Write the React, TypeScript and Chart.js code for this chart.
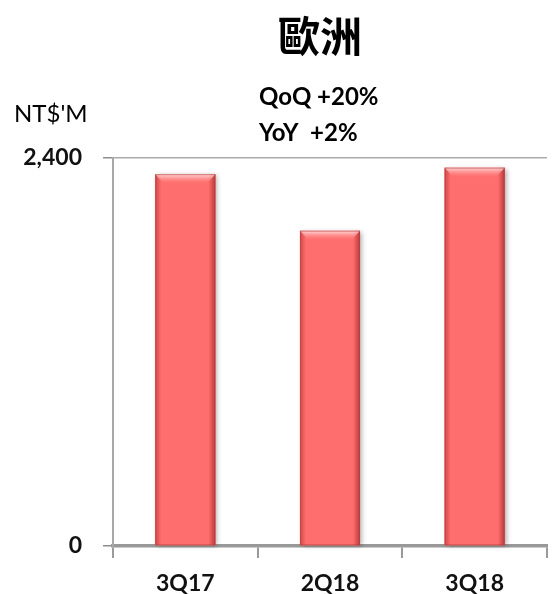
import { useEffect, useRef } from "react";
import { Chart, registerables } from "chart.js";

Chart.register(...registerables);

const categories = ["3Q17", "2Q18", "3Q18"];
const revenue = [2300, 1950, 2340];
const yMin = 0;
const yMax = 2400;
const titleText = "歐洲";
const subtitleLines = ["QoQ +20%", "YoY  +2%"];
const unitLabel = "NT$'M";

export default function App() {
  const ref = useRef<HTMLCanvasElement>(null);

  useEffect(() => {
    document.body.style.margin = "0";
    const canvas = ref.current;
    if (!canvas) return;

    const textPlugin = {
      id: "texts",
      afterDraw(chart: any) {
        const { ctx } = chart;
        ctx.save();
        ctx.fillStyle = "#000";
        ctx.textBaseline = "middle";
        ctx.textAlign = "center";
        ctx.font = "bold 42px 'Noto Sans CJK TC'";
        ctx.fillText(titleText, 320, 36);
        ctx.textAlign = "left";
        ctx.font = "bold 24px Lato";
        ctx.fillText(subtitleLines[0], 259, 97);
        ctx.fillText(subtitleLines[1], 259, 133);
        ctx.font = "24px Lato";
        ctx.fillText(unitLabel, 14, 114);
        ctx.restore();
      },
    };

    const bevelPlugin = {
      id: "bevel",
      beforeDatasetsDraw(chart: any) {
        const { ctx } = chart;
        const meta = chart.getDatasetMeta(0);
        ctx.save();
        meta.data.forEach((bar: any) => {
          const { x, y, base, width } = bar.getProps(["x", "y", "base", "width"], true);
          ctx.shadowColor = "rgba(0,0,0,0.35)";
          ctx.shadowBlur = 5;
          ctx.shadowOffsetX = 2;
          ctx.shadowOffsetY = 1;
          ctx.fillStyle = "#ff6e6e";
          ctx.fillRect(x - width / 2, y, width, base - y);
        });
        ctx.restore();
      },
      afterDatasetsDraw(chart: any) {
        const { ctx } = chart;
        const meta = chart.getDatasetMeta(0);
        ctx.save();
        meta.data.forEach((bar: any) => {
          const { x, y, base, width } = bar.getProps(["x", "y", "base", "width"], true);
          const l = x - width / 2;
          const r = x + width / 2;
          const h = base - y;
          // left edge
          let g = ctx.createLinearGradient(l, 0, l + 6, 0);
          g.addColorStop(0, "rgba(170,40,40,0.55)");
          g.addColorStop(1, "rgba(170,40,40,0)");
          ctx.fillStyle = g;
          ctx.fillRect(l, y, 6, h);
          // right edge
          g = ctx.createLinearGradient(r, 0, r - 7, 0);
          g.addColorStop(0, "rgba(150,30,30,0.65)");
          g.addColorStop(1, "rgba(150,30,30,0)");
          ctx.fillStyle = g;
          ctx.fillRect(r - 7, y, 7, h);
          // top bevel highlight
          g = ctx.createLinearGradient(0, y, 0, y + 9);
          g.addColorStop(0, "rgba(255,255,255,0.75)");
          g.addColorStop(0.35, "rgba(255,200,200,0.6)");
          g.addColorStop(1, "rgba(255,150,150,0)");
          ctx.fillStyle = g;
          ctx.beginPath();
          ctx.moveTo(l, y);
          ctx.lineTo(r, y);
          ctx.lineTo(r - 8, y + 9);
          ctx.lineTo(l + 8, y + 9);
          ctx.closePath();
          ctx.fill();
          ctx.strokeStyle = "rgba(180,60,60,0.55)";
          ctx.lineWidth = 1;
          ctx.strokeRect(l + 0.5, y + 0.5, width - 1, h - 1);
        });
        ctx.restore();
      },
    };

    const chart = new Chart(canvas, {
      type: "bar",
      data: {
        labels: categories,
        datasets: [
          {
            data: revenue,
            backgroundColor: "#ff6e6e",
            borderWidth: 0,
            barPercentage: 0.415,
            categoryPercentage: 1,
          },
        ],
      },
      options: {
        animation: false,
        responsive: true,
        maintainAspectRatio: false,
        layout: { padding: { top: 158, right: 9, left: 0, bottom: 0 } },
        plugins: {
          legend: { display: false },
          title: { display: false },
          tooltip: { enabled: false },
        },
        scales: {
          x: {
            afterFit: (scale: any) => {
              scale.height = 48;
            },
            grid: {
              display: true,
              drawOnChartArea: false,
              drawTicks: true,
              tickLength: 12,
              tickColor: "#9a9a9a",
              lineWidth: 2,
              color: "#9a9a9a",
            },
            border: { display: true, color: "#999999", width: 3.5 },
            ticks: {
              color: "#111",
              font: { family: "Lato", size: 23, weight: "bold" },
              padding: 12,
              maxRotation: 0,
            },
          },
          y: {
            min: yMin,
            max: yMax,
            afterFit: (scale: any) => {
              scale.width = 113;
            },
            grid: {
              color: (c: any) => (c.tick && c.tick.value === yMax ? "#ababab" : "rgba(0,0,0,0)"),
              lineWidth: 1.5,
              tickLength: 10,
              tickColor: "#8c8c8c",
              drawTicks: true,
            },
            border: { display: true, color: "#a8a8a8", width: 2 },
            ticks: {
              stepSize: yMax - yMin,
              color: "#111",
              font: { family: "Lato", size: 23, weight: "bold" },
              padding: 21,
              callback: (v: any) => Number(v).toLocaleString("en-US"),
            },
          },
        },
      },
      plugins: [bevelPlugin, textPlugin],
    });

    return () => chart.destroy();
  }, []);

  return (
    <div style={{ position: "relative", width: 556, height: 594 }}>
      <canvas ref={ref} />
    </div>
  );
}
